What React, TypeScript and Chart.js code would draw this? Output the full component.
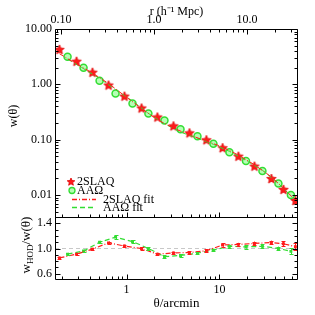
import React, { useEffect, useRef } from 'react';
import { Chart, registerables } from 'chart.js';
Chart.register(...registerables);

// ---- data ----
const thetaS = [0.19, 0.29, 0.43, 0.64, 0.95, 1.45, 2.15, 3.2, 4.76, 7.24, 10.8, 16.0, 23.8, 36.2, 48.8, 65.6];
const wS = [4.2, 2.56, 1.62, 0.95, 0.6, 0.366, 0.252, 0.174, 0.13, 0.0975, 0.07, 0.0493, 0.0326, 0.0194, 0.0124, 0.0078];
const thetaC = [0.232, 0.345, 0.513, 0.762, 1.16, 1.72, 2.56, 3.81, 5.8, 8.61, 12.8, 19.3, 29.0, 43.1, 58.7];
const wC = [3.14, 2.0, 1.165, 0.68, 0.45, 0.298, 0.223, 0.154, 0.115, 0.0844, 0.0594, 0.041, 0.0271, 0.0162, 0.01];
const fitS = [3.57, 2.33, 1.6, 1.035, 0.624, 0.366, 0.229, 0.162, 0.1216, 0.0941, 0.0739, 0.0525, 0.0352, 0.0212, 0.0133, 0.008];
const fitC = [2.86, 1.92, 1.28, 0.8, 0.5, 0.298, 0.194, 0.137, 0.106, 0.0823, 0.0615, 0.042, 0.028, 0.0162, 0.0096];
const ratioS = [0.85, 0.91, 0.99, 1.09, 1.04, 1.0, 0.91, 0.93, 0.935, 0.965, 1.055, 1.065, 1.08, 1.095, 1.075, 1.03];
const errS = [0.02, 0.02, 0.02, 0.02, 0.02, 0.02, 0.02, 0.02, 0.02, 0.02, 0.025, 0.025, 0.03, 0.03, 0.04, 0.05];
const ratioC = [0.91, 0.96, 1.1, 1.18, 1.11, 1.0, 0.87, 0.89, 0.925, 0.975, 1.035, 1.025, 1.035, 1.0, 0.955];
const errC = [0.02, 0.02, 0.02, 0.03, 0.02, 0.02, 0.02, 0.02, 0.02, 0.02, 0.025, 0.025, 0.03, 0.03, 0.05];

const xMin = 0.17;
const xMax = 70;
const arcminToMpc = 0.506;
const xMajor = [1, 10];
const xLabels = ['1', '10'];
const xMinor = [0.2, 0.3, 0.4, 0.5, 0.6, 0.7, 0.8, 0.9, 2, 3, 4, 5, 6, 7, 8, 9, 20, 30, 40, 50, 60, 70];
const rMajor = [0.1, 1, 10];
const rLabels = ['0.10', '1.0', '10.0'];
const rMinor = [0.09, 0.2, 0.3, 0.4, 0.5, 0.6, 0.7, 0.8, 0.9, 2, 3, 4, 5, 6, 7, 8, 9, 20, 30];
const yMajor = [0.01, 0.1, 1, 10];
const yLabels = ['0.01', '0.10', '1.00', '10.00'];
const yMinor = [0.005, 0.006, 0.007, 0.008, 0.009, 0.02, 0.03, 0.04, 0.05, 0.06, 0.07, 0.08, 0.09,
  0.2, 0.3, 0.4, 0.5, 0.6, 0.7, 0.8, 0.9, 2, 3, 4, 5, 6, 7, 8, 9];
const qMajor = [0.6, 1.0, 1.4];
const qLabels = ['0.6', '1.0', '1.4'];
const qMinor = [0.7, 0.8, 0.9, 1.1, 1.2, 1.3];

const RED = '#ff1a1a';
const GREEN = '#33dd33';
const LIGHTGREEN = 'rgba(150,255,150,0.7)';
const FONT = "'Liberation Serif', 'Times New Roman', serif";

function makeStar(r: number) {
  const c = document.createElement('canvas');
  const s = Math.ceil(r * 2 + 2);
  c.width = s;
  c.height = s;
  const g = c.getContext('2d')!;
  g.beginPath();
  for (let i = 0; i < 10; i++) {
    const a = -Math.PI / 2 + (i * Math.PI) / 5;
    const rr = i % 2 === 0 ? r : r * 0.45;
    g.lineTo(s / 2 + rr * Math.cos(a), s / 2 + rr * Math.sin(a));
  }
  g.closePath();
  g.fillStyle = RED;
  g.fill();
  g.strokeStyle = '#e00000';
  g.lineWidth = 0.8;
  g.stroke();
  return c;
}

export default function App() {
  const ref = useRef<HTMLCanvasElement>(null);
  useEffect(() => {
    document.body.style.margin = '0';
    const star = makeStar(5);
    const starSmall = makeStar(4);
    const pts = (xs: number[], ys: number[]) => xs.map((x, i) => ({ x, y: ys[i] }));

    const framePlugin = {
      id: 'frame',
      afterDatasetsDraw(chart: any) {
        const ctx = chart.ctx as CanvasRenderingContext2D;
        const sx = chart.scales.x, sx2 = chart.scales.x2, sy = chart.scales.y, sq = chart.scales.yR;
        const p = (v: number) => Math.round(v) + 0.5;
        const L = p(chart.chartArea.left), R = p(chart.chartArea.right - 1);
        const T = p(sy.top), M = p(sy.bottom), B = p(sq.bottom - 1);
        ctx.save();
        // error bars
        const drawErr = (idx: number, vals: number[], errs: number[], color: string) => {
          const meta = chart.getDatasetMeta(idx);
          ctx.strokeStyle = color;
          ctx.lineWidth = 1;
          ctx.setLineDash([]);
          ctx.beginPath();
          meta.data.forEach((el: any, i: number) => {
            const X = p(el.x);
            const y1 = sq.getPixelForValue(vals[i] + errs[i]);
            const y2 = sq.getPixelForValue(vals[i] - errs[i]);
            ctx.moveTo(X, y1); ctx.lineTo(X, y2);
            ctx.moveTo(X - 2, p(y1)); ctx.lineTo(X + 2, p(y1));
            ctx.moveTo(X - 2, p(y2)); ctx.lineTo(X + 2, p(y2));
          });
          ctx.stroke();
        };
        drawErr(5, ratioS, errS, RED);
        drawErr(6, ratioC, errC, GREEN);

        // frame
        ctx.strokeStyle = '#000';
        ctx.lineWidth = 1;
        ctx.beginPath();
        ctx.rect(L, T, R - L, B - T);
        ctx.moveTo(L, M); ctx.lineTo(R, M);
        // ticks
        const vt = (scale: any, vals: number[], y0: number, len: number) => {
          vals.forEach((v) => {
            const X = p(scale.getPixelForValue(v));
            if (X < L || X > R) return;
            ctx.moveTo(X, y0); ctx.lineTo(X, y0 + len);
          });
        };
        const ht = (scale: any, vals: number[], x0: number, len: number, top: number, bot: number) => {
          vals.forEach((v) => {
            const Y = p(scale.getPixelForValue(v));
            if (Y < top || Y > bot) return;
            ctx.moveTo(x0, Y); ctx.lineTo(x0 + len, Y);
          });
        };
        vt(sx, xMajor, B, -5); vt(sx, xMinor, B, -3);
        vt(sx, xMajor, M, -5); vt(sx, xMinor, M, -3);
        vt(sx2, rMajor, T, 5); vt(sx2, rMinor, T, 3);
        ht(sy, yMajor, L, 5, T, M); ht(sy, yMinor, L, 3, T, M);
        ht(sy, yMajor, R, -5, T, M); ht(sy, yMinor, R, -3, T, M);
        ht(sq, qMajor, L, 5, M, B); ht(sq, qMinor, L, 3, M, B);
        ht(sq, qMajor, R, -5, M, B); ht(sq, qMinor, R, -3, M, B);
        ctx.stroke();

        // y titles
        ctx.fillStyle = '#000';
        ctx.textBaseline = 'middle';
        ctx.save();
        ctx.translate(14, 116);
        ctx.rotate(-Math.PI / 2);
        ctx.font = `12px ${FONT}`;
        ctx.textAlign = 'center';
        ctx.fillText('w(θ)', 0, 0);
        ctx.restore();

        ctx.save();
        ctx.translate(27, 245);
        ctx.rotate(-Math.PI / 2);
        ctx.textAlign = 'left';
        ctx.font = `13px ${FONT}`;
        const w1 = ctx.measureText('w').width;
        ctx.font = `9px ${FONT}`;
        const w2 = ctx.measureText('HOD').width;
        ctx.font = `13px ${FONT}`;
        const w3 = ctx.measureText('/w(θ)').width;
        let cx = -(w1 + w2 + w3) / 2;
        ctx.fillText('w', cx, 0); cx += w1;
        ctx.font = `9px ${FONT}`;
        ctx.fillText('HOD', cx, 3.5); cx += w2;
        ctx.font = `13px ${FONT}`;
        ctx.fillText('/w(θ)', cx, 0);
        ctx.restore();

        // legend
        ctx.font = `12px ${FONT}`;
        ctx.textAlign = 'left';
        ctx.drawImage(starSmall, 71 - starSmall.width / 2, 182 - starSmall.height / 2);
        ctx.fillText('2SLAQ', 77, 182);
        ctx.beginPath();
        ctx.arc(72, 190.5, 3, 0, Math.PI * 2);
        ctx.fillStyle = LIGHTGREEN;
        ctx.fill();
        ctx.strokeStyle = GREEN;
        ctx.lineWidth = 1.3;
        ctx.stroke();
        ctx.fillStyle = '#000';
        ctx.fillText('AAΩ', 77, 190.5);
        ctx.lineWidth = 1.4;
        ctx.strokeStyle = RED;
        ctx.setLineDash([5, 2, 1, 2]);
        ctx.beginPath(); ctx.moveTo(72, 199.5); ctx.lineTo(96, 199.5); ctx.stroke();
        ctx.strokeStyle = GREEN;
        ctx.setLineDash([5, 3]);
        ctx.beginPath(); ctx.moveTo(72, 207.5); ctx.lineTo(96, 207.5); ctx.stroke();
        ctx.setLineDash([]);
        ctx.fillText('2SLAQ fit', 103, 199.5);
        ctx.fillText('AAΩ fit', 103, 207.5);
        ctx.restore();
      },
    };

    const axisBase = {
      grid: { display: false, drawTicks: false },
      border: { display: false },
    };

    const chart = new Chart(ref.current!, {
      type: 'scatter',
      data: {
        datasets: [
          { label: '2SLAQ', data: pts(thetaS, wS), xAxisID: 'x', yAxisID: 'y', pointStyle: star as any, pointRadius: 5, order: 4 },
          { label: 'AAΩ', data: pts(thetaC, wC), xAxisID: 'x', yAxisID: 'y', pointStyle: 'circle', pointRadius: 3.5, borderColor: GREEN, backgroundColor: LIGHTGREEN, borderWidth: 1.5, order: 3 },
          { label: '2SLAQ fit', data: pts(thetaS, fitS), xAxisID: 'x', yAxisID: 'y', showLine: true, pointRadius: 0, borderColor: RED, borderWidth: 1, borderDash: [5, 2, 1, 2], order: 1 },
          { label: 'AAΩ fit', data: pts(thetaC, fitC), xAxisID: 'x', yAxisID: 'y', showLine: true, pointRadius: 0, borderColor: GREEN, borderWidth: 1, borderDash: [5, 3], order: 2 },
          { label: 'unity', data: [{ x: xMin, y: 1 }, { x: xMax, y: 1 }], xAxisID: 'x', yAxisID: 'yR', showLine: true, pointRadius: 0, borderColor: '#c8c8c8', borderWidth: 1, borderDash: [4, 3], order: 7 },
          { label: '2SLAQ ratio', data: pts(thetaS, ratioS), xAxisID: 'x', yAxisID: 'yR', showLine: true, pointRadius: 1.2, pointStyle: 'rect', borderColor: RED, backgroundColor: RED, borderWidth: 1.2, borderDash: [5, 2, 1, 2], order: 5 },
          { label: 'AAΩ ratio', data: pts(thetaC, ratioC), xAxisID: 'x', yAxisID: 'yR', showLine: true, pointRadius: 1.2, pointStyle: 'rect', borderColor: GREEN, backgroundColor: GREEN, borderWidth: 1.2, borderDash: [5, 3], order: 6 },
        ],
      },
      options: {
        animation: false,
        responsive: false,
        devicePixelRatio: 1,
        layout: { padding: { left: 0, right: 17, top: 0, bottom: 0 } },
        plugins: { legend: { display: false }, tooltip: { enabled: false } },
        font: { family: FONT },
        scales: {
          x: {
            ...axisBase,
            type: 'logarithmic', position: 'bottom', min: xMin, max: xMax,
            afterBuildTicks: (s: any) => { s.ticks = xMajor.map((v) => ({ value: v })); },
            afterFit: (s: any) => { s.height = 35; },
            ticks: { autoSkip: false, maxRotation: 0, padding: 3, color: '#000', font: { family: FONT, size: 12 }, callback: (_v: any, i: number) => xLabels[i] },
            title: { display: true, text: 'θ/arcmin', color: '#000', font: { family: FONT, size: 13 }, padding: { top: 0, bottom: 4 } },
          },
          x2: {
            ...axisBase,
            type: 'logarithmic', position: 'top', min: xMin * arcminToMpc, max: xMax * arcminToMpc,
            afterBuildTicks: (s: any) => { s.ticks = rMajor.map((v) => ({ value: v })); },
            afterFit: (s: any) => { s.height = 29; },
            ticks: { autoSkip: false, maxRotation: 0, padding: 1.5, color: '#000', font: { family: FONT, size: 12 }, callback: (_v: any, i: number) => rLabels[i] },
            title: { display: true, text: 'r (h⁻¹ Mpc)', color: '#000', font: { family: FONT, size: 12 }, padding: { top: 4.5, bottom: 0 } },
          },
          yR: {
            ...axisBase,
            type: 'linear', position: 'left', stack: 'v', stackWeight: 63, min: 0.5, max: 1.5,
            afterBuildTicks: (s: any) => { s.ticks = qMajor.map((v) => ({ value: v })); },
            afterFit: (s: any) => { s.width = 55; },
            ticks: { autoSkip: false, padding: 3, color: '#000', font: { family: FONT, size: 12 }, callback: (_v: any, i: number) => qLabels[i] },
          },
          y: {
            ...axisBase,
            type: 'logarithmic', position: 'left', stack: 'v', stackWeight: 188, min: 0.004, max: 10,
            afterBuildTicks: (s: any) => { s.ticks = yMajor.map((v) => ({ value: v })); },
            afterFit: (s: any) => { s.width = 55; },
            ticks: { autoSkip: false, padding: 3, color: '#000', font: { family: FONT, size: 12 }, callback: (_v: any, i: number) => yLabels[i] },
          },
        },
      } as any,
      plugins: [framePlugin],
    });
    return () => chart.destroy();
  }, []);
  return (
    <div style={{ position: 'absolute', left: 0, top: 0, width: 315, height: 315, background: '#fff' }}>
      <canvas ref={ref} width={315} height={315} style={{ display: 'block' }} />
    </div>
  );
}
